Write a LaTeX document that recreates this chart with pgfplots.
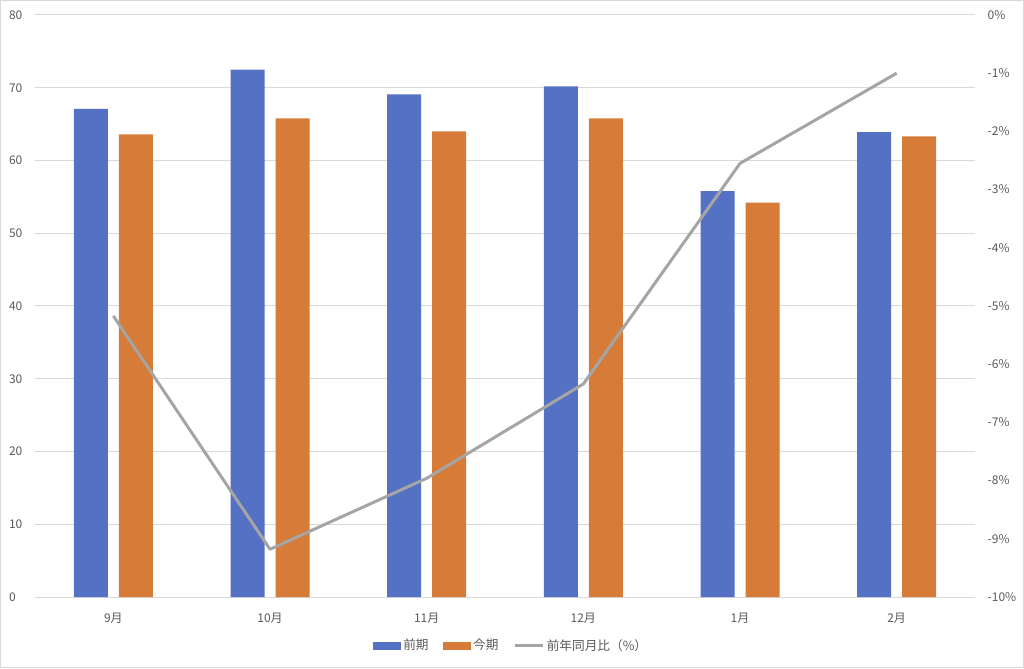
\documentclass[border=0pt]{standalone}
\usepackage{pgfplots}
\pgfplotsset{compat=1.18}
\usepackage{fontspec}
\setmainfont{Noto Sans CJK JP}
\definecolor{cblue}{RGB}{84,113,196}
\definecolor{corange}{RGB}{214,123,56}
\definecolor{cline}{RGB}{165,165,165}
\definecolor{cgrid}{RGB}{217,217,217}
\definecolor{ctext}{RGB}{89,89,89}
\pgfplotstableread{
x prev cur
0 67.1 63.6
1 72.5 65.8
2 69.1 64.0
3 70.2 65.8
4 55.8 54.2
5 63.9 63.3
}\bardata
\pgfplotstableread{
x yoy
0 -5.17
1 -9.18
2 -7.96
3 -6.34
4 -2.55
5 -1.00
}\linedata
\begin{document}
\begin{tikzpicture}
\path[use as bounding box] (0pt,0pt) rectangle (768pt,501pt);
\draw[cgrid, line width=1pt] (0.5pt,0.5pt) rectangle (767.5pt,500.5pt);
\pgfplotsset{
  myaxis/.style={
    at={(26.25pt,53.25pt)}, anchor=south west,
    scale only axis, width=705pt, height=436.5pt,
    xmin=-0.5, xmax=5.5,
    major tick length=0pt,
    tick label style={font=\fontsize{9}{11}\selectfont, text=ctext},
  }
}
\begin{axis}[
  myaxis,
  ymin=0, ymax=80,
  axis line style={draw=none},
  ybar=8.25pt, bar width=25.5pt,
  xtick={0,...,5},
  xticklabels={9月,10月,11月,12月,1月,2月},
  xticklabel style={yshift=-8.5pt},
  ytick={0,10,...,80},
  yticklabels={0,10,20,30,40,50,60,70,80},
  yticklabel style={anchor=west, xshift=-23pt},
  ymajorgrids,
  grid style={cgrid, line width=0.75pt},
]
\addplot[fill=cblue, draw=none] table[x=x, y=prev] {\bardata};
\addplot[fill=corange, draw=none] table[x=x, y=cur] {\bardata};
\end{axis}
\begin{axis}[
  myaxis,
  ymin=-10, ymax=0,
  axis x line=none,
  axis y line*=right,
  axis line style={draw=none},
  xtick=\empty,
  ytick={-10,-9,...,0},
  yticklabels={-10\%,-9\%,-8\%,-7\%,-6\%,-5\%,-4\%,-3\%,-2\%,-1\%,0\%},
  yticklabel style={anchor=west, xshift=6pt},
  legend style={at={(0.507,-0.0835)}, anchor=center, draw=none, fill=none,
    legend columns=-1, font=\fontsize{9.5}{11}\selectfont, text=ctext,
    /tikz/every even column/.append style={column sep=9pt},
    inner sep=0pt},
  legend cell align=left,
]
\addlegendimage{legend image code/.code={\fill[cblue] (0pt,-2.5pt) rectangle (20pt,2.5pt);}}
\addlegendentry{前期}
\addlegendimage{legend image code/.code={\fill[corange] (0pt,-2.5pt) rectangle (20pt,2.5pt);}}
\addlegendentry{今期}
\addplot[cline, line width=2.25pt, line join=round, mark=none,
  legend image code/.code={\draw[cline, line width=2.25pt] (0pt,0pt) -- (21pt,0pt);}]
  table[x=x, y=yoy] {\linedata};
\addlegendentry{前年同月比（\%）}
\end{axis}
\end{tikzpicture}
\end{document}
